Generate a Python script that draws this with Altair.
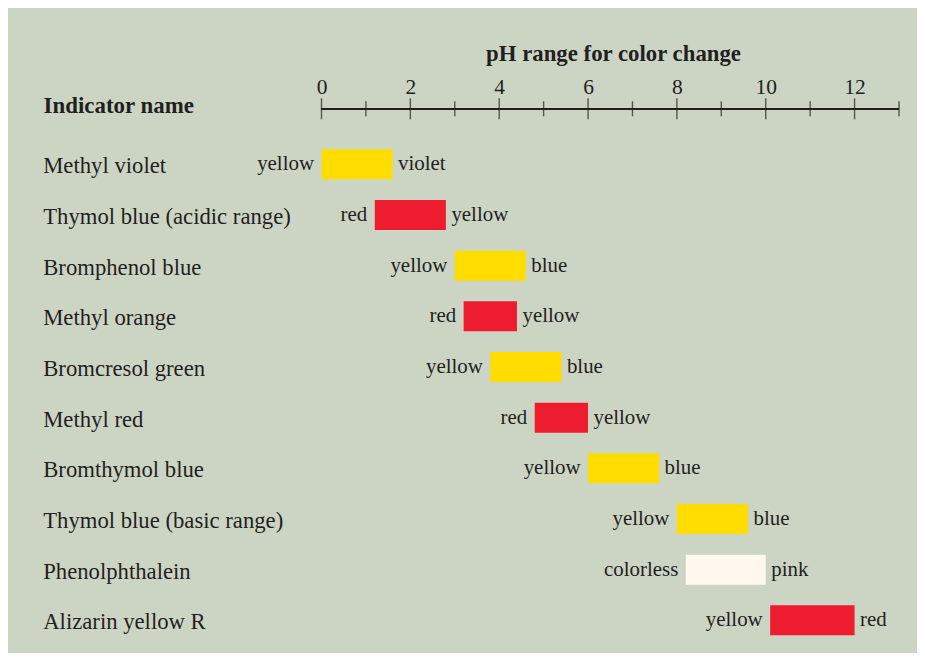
import altair as alt
import pandas as pd

# ---- data ----
indicators = [
    "Methyl violet",
    "Thymol blue (acidic range)",
    "Bromphenol blue",
    "Methyl orange",
    "Bromcresol green",
    "Methyl red",
    "Bromthymol blue",
    "Thymol blue (basic range)",
    "Phenolphthalein",
    "Alizarin yellow R",
]
ph_low = [0.0, 1.2, 3.0, 3.2, 3.8, 4.8, 6.0, 8.0, 8.2, 10.1]
ph_high = [1.6, 2.8, 4.6, 4.4, 5.4, 6.0, 7.6, 9.6, 10.0, 12.0]
low_color_name = ["yellow", "red", "yellow", "red", "yellow", "red",
                  "yellow", "yellow", "colorless", "yellow"]
high_color_name = ["violet", "yellow", "blue", "yellow", "blue", "yellow",
                   "blue", "blue", "pink", "red"]
bar_color = ["yellow", "red", "yellow", "red", "yellow", "red",
             "yellow", "yellow", "colorless", "red"]
tick_values = list(range(0, 14))
label_values = [0, 2, 4, 6, 8, 10, 12]

FONT = "Liberation Serif"
INK = "#231F20"
BG = "#CCD5C4"

df = pd.DataFrame({
    "name": indicators,
    "low": ph_low,
    "high": ph_high,
    "low_label": low_color_name,
    "high_label": high_color_name,
    "bar": bar_color,
})
ticks_df = pd.DataFrame({"ph": tick_values})

xscale = alt.Scale(domain=[0, 13], nice=False, zero=False)
yscale = alt.Scale(paddingInner=0.408, paddingOuter=0)

x_axis = alt.Axis(
    orient="top", values=label_values, ticks=False, tickSize=0,
    domain=False, grid=False, labelPadding=56,
    labelBaseline="alphabetic", labelFontSize=21.5, labelFont=FONT,
    labelColor=INK, labelFlush=False, labelOverlap=False,
    title="pH range for color change", titleX=291.5, titleY=-88.6,
    titleAlign="center", titleBaseline="alphabetic", titleAngle=0,
    titleFontSize=22.8, titleFontWeight="bold", titleFont=FONT,
    titleColor=INK,
)
y_axis = alt.Axis(
    orient="left", ticks=False, tickSize=0, domain=False, grid=False,
    labelAlign="left", labelPadding=278.8, labelBaseline="alphabetic",
    labelOffset=9, labelFontSize=22.7, labelFont=FONT, labelColor=INK,
    labelLimit=400,
    title="Indicator name", titleAngle=0, titleAlign="left",
    titleBaseline="alphabetic", titleX=-278.4, titleY=-36.6,
    titleFontSize=22.9, titleFontWeight="bold", titleFont=FONT,
    titleColor=INK,
)

base = alt.Chart(df)

bars = base.mark_bar(strokeWidth=0).encode(
    x=alt.X("low:Q", scale=xscale, axis=x_axis),
    x2="high:Q",
    y=alt.Y("name:N", sort=indicators, scale=yscale, axis=y_axis),
    color=alt.Color(
        "bar:N",
        scale=alt.Scale(domain=["yellow", "red", "colorless"],
                        range=["#FFDD00", "#ED1C2E", "#FFF8EE"]),
        legend=None,
    ),
)

left_text = base.mark_text(
    align="right", baseline="alphabetic", dx=-7.5, dy=6,
    font=FONT, fontSize=20.9, color=INK,
).encode(
    x=alt.X("low:Q", scale=xscale, axis=x_axis),
    y=alt.Y("name:N", sort=indicators, scale=yscale, axis=y_axis),
    text="low_label:N",
)

right_text = base.mark_text(
    align="left", baseline="alphabetic", dx=5.5, dy=6,
    font=FONT, fontSize=20.9, color=INK,
).encode(
    x=alt.X("high:Q", scale=xscale, axis=x_axis),
    y=alt.Y("name:N", sort=indicators, scale=yscale, axis=y_axis),
    text="high_label:N",
)

axis_line = alt.Chart(ticks_df).mark_rule(color=INK, strokeWidth=1.4).encode(
    x=alt.datum(0, scale=xscale, axis=x_axis),
    x2=alt.datum(13),
    y=alt.value(-40.4),
)

ticks = alt.Chart(ticks_df).mark_tick(
    orient="vertical", color=INK, thickness=1.4
).encode(
    x=alt.X("ph:Q", scale=xscale, axis=x_axis),
    y=alt.value(-40.5),
    size=alt.condition("datum.ph % 2 == 0", alt.value(21), alt.value(15)),
)

chart = (
    alt.layer(bars, left_text, right_text, axis_line, ticks)
    .properties(
        width=577.5,
        height=486,
        autosize=alt.AutoSizeParams(type="none"),
        padding={"left": 313.5, "top": 141.3, "right": 18, "bottom": 17.7},
        background=BG,
    )
    .configure_view(stroke=None)
)

chart.save("out.html", embed_options={"renderer": "svg", "actions": False})
